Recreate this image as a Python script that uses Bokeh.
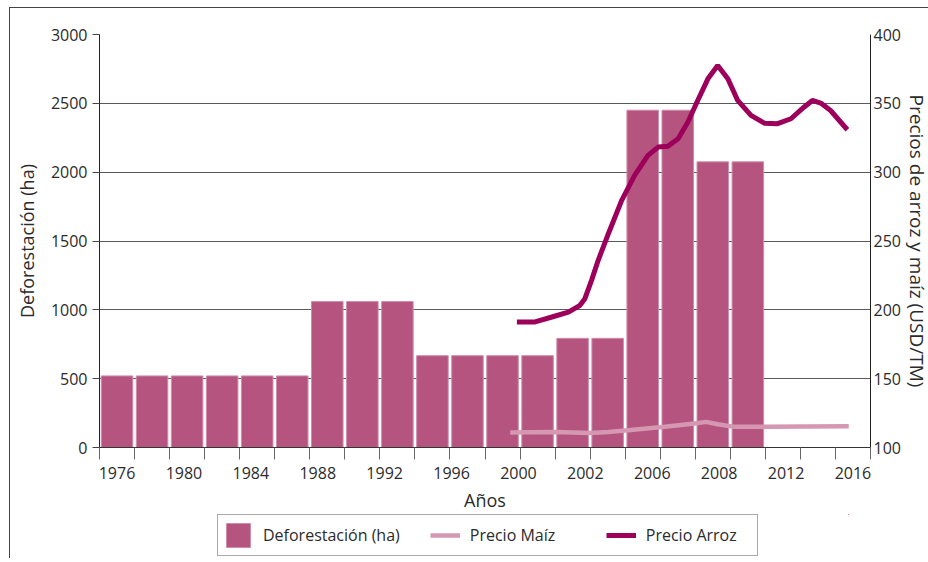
from bokeh.plotting import figure
from bokeh.layouts import column
from bokeh.models import Range1d, LinearAxis, FixedTicker, Legend, LegendItem, ColumnDataSource
from bokeh.embed import file_html
from bokeh.resources import INLINE

# ---------------- data ----------------
bar_slots = list(range(19))            # 19 bar periods, one per axis slot
deforestacion = [520, 520, 520, 520, 520, 520,
                 1060, 1060, 1060,
                 667, 667, 667, 667,
                 793, 793,
                 2450, 2450,
                 2075, 2075]

year_labels = ["1976", "1980", "1984", "1988", "1992", "1996",
               "2000", "2002", "2006", "2008", "2012", "2016"]

# Precio Arroz (USD/TM) sampled along the curve; x in axis-slot units
arroz_x = [11.91, 12.43, 12.91, 13.38, 13.71, 13.85, 14.04, 14.23, 14.52, 14.90,
           15.27, 15.65, 15.94, 16.22, 16.51, 16.79, 17.07, 17.36, 17.64, 17.93,
           18.21, 18.59, 18.97, 19.35, 19.73, 20.10, 20.34, 20.58, 20.86, 21.34]
arroz_y = [191.2, 191.2, 194.8, 198.4, 203.3, 208.1, 221.4, 236.0, 255.3, 279.5,
           297.6, 312.2, 318.2, 318.9, 324.3, 336.4, 352.1, 367.8, 377.5, 367.8,
           352.1, 341.2, 335.6, 335.2, 338.8, 347.2, 352.1, 350.2, 344.8, 330.8]

# Precio Maíz (USD/TM)
maiz_x = [11.72, 13.00, 14.00, 14.52, 15.08, 16.13, 16.98, 17.31, 17.64, 18.12, 18.97, 21.38]
maiz_y = [110.9, 111.3, 110.6, 111.3, 112.6, 115.0, 117.4, 118.6, 116.9, 115.0, 115.0, 115.5]

left_ticks = [0, 500, 1000, 1500, 2000, 2500, 3000]
right_ticks = [100, 150, 200, 250, 300, 350, 400]

# ---------------- styling ----------------
FONT = "Open Sans"
TXT = "#2b2b2b"
BAR = "#b5557f"
BAR_EDGE = "#d08cab"
ARROZ = "#9c005a"
MAIZ = "#d597b2"
GRID = "#5a5a5a"

n_slots = 22
p = figure(frame_width=771, frame_height=413, output_backend="svg", toolbar_location=None,
           x_range=Range1d(0, n_slots), y_range=Range1d(0, 3000),
           min_border_left=89, min_border_top=26, min_border_right=20, min_border_bottom=0)
p.outline_line_color = None
p.background_fill_color = "white"
p.extra_y_ranges = {"precio": Range1d(100, 400)}

bar_src = ColumnDataSource(dict(x=[s + 0.5 for s in bar_slots], top=deforestacion))
maiz_src = ColumnDataSource(dict(x=maiz_x, y=maiz_y))
arroz_src = ColumnDataSource(dict(x=arroz_x, y=arroz_y))

bars = p.vbar(x="x", top="top", width=0.9, bottom=0, source=bar_src,
              fill_color=BAR, line_color=BAR_EDGE, line_width=1)
maiz = p.line("x", "y", source=maiz_src, y_range_name="precio", line_color=MAIZ, line_width=4.5)
arroz = p.line("x", "y", source=arroz_src, y_range_name="precio", line_color=ARROZ, line_width=5)

# x axis: slot boundary tick marks + evenly spread year labels
label_pos = [0.5 + k * (n_slots - 1) / (len(year_labels) - 1) for k in range(len(year_labels))]
xax = p.xaxis[0]
xax.ticker = FixedTicker(ticks=label_pos, minor_ticks=list(range(n_slots + 1)))
xax.major_label_overrides = {pos: lab for pos, lab in zip(label_pos, year_labels)}
xax.major_tick_out = 0
xax.major_tick_in = 0
xax.minor_tick_out = 12
xax.minor_tick_in = 0
xax.minor_tick_line_color = "#666666"
xax.axis_line_color = "#333333"
xax.major_label_standoff = 7
xax.axis_label = "Años"
xax.axis_label_standoff = 6
p.xgrid.visible = False

yax = p.yaxis[0]
yax.ticker = FixedTicker(ticks=left_ticks)
yax.minor_tick_out = 0
yax.minor_tick_in = 0
yax.major_tick_out = 7
yax.major_tick_in = 0
yax.major_tick_line_color = "#444444"
yax.axis_line_color = "#222222"
yax.major_label_standoff = 5
yax.axis_label = "Deforestación (ha)"
yax.axis_label_standoff = 9
p.ygrid.ticker = FixedTicker(ticks=left_ticks)
p.ygrid.grid_line_color = GRID
p.ygrid.grid_line_width = 1

rax = LinearAxis(y_range_name="precio", ticker=FixedTicker(ticks=right_ticks),
                 axis_label="Precios de arroz y maíz (USD/TM)")
rax.major_tick_out = 0
rax.major_tick_in = 0
rax.minor_tick_out = 0
rax.minor_tick_in = 0
rax.axis_line_color = "#222222"
rax.major_label_standoff = 3
rax.axis_label_standoff = 0
p.add_layout(rax, "right")

for ax in (xax, yax, rax):
    ax.major_label_text_font = FONT
    ax.major_label_text_font_size = "16px"
    ax.major_label_text_color = TXT
    ax.axis_label_text_font = FONT
    ax.axis_label_text_font_size = "18px"
    ax.axis_label_text_font_style = "normal"
    ax.axis_label_text_color = TXT
rax.axis_label_text_font_size = "19px"

# ---------------- legend strip under the chart ----------------
# legend swatches come from the same sources, kept far outside this strip's (empty) view
lf = figure(width=900, height=44, output_backend="svg", toolbar_location=None,
            x_range=Range1d(-1000, -999), y_range=Range1d(-1000, -999),
            x_axis_type=None, y_axis_type=None, min_border=0)
lf.outline_line_color = None
lf.grid.visible = False
lg_bar = lf.vbar(x="x", top="top", width=0.9, bottom=0, source=bar_src,
                 fill_color=BAR, line_color=BAR_EDGE, line_width=1)
lg_maiz = lf.line("x", "y", source=maiz_src, line_color=MAIZ, line_width=4.5)
lg_arroz = lf.line("x", "y", source=arroz_src, line_color=ARROZ, line_width=5)

legend = Legend(items=[LegendItem(label="Deforestación (ha)", renderers=[lg_bar]),
                       LegendItem(label="Precio Maíz", renderers=[lg_maiz]),
                       LegendItem(label="Precio Arroz", renderers=[lg_arroz])],
                orientation="horizontal", location=(118, 2),
                border_line_color="#555555", border_line_width=1,
                background_fill_color="white",
                label_text_font=FONT, label_text_font_size="16px", label_text_color=TXT,
                glyph_width=30, glyph_height=30, label_standoff=10, spacing=30,
                padding=5, margin=0, label_width=106)
lf.add_layout(legend)

layout = column(p, lf, spacing=0)
layout.styles = {"margin-left": "9px", "margin-top": "7px",
                 "border-left": "1px solid #444", "border-top": "1px solid #444"}

open("out.html", "w").write(file_html(layout, INLINE))
